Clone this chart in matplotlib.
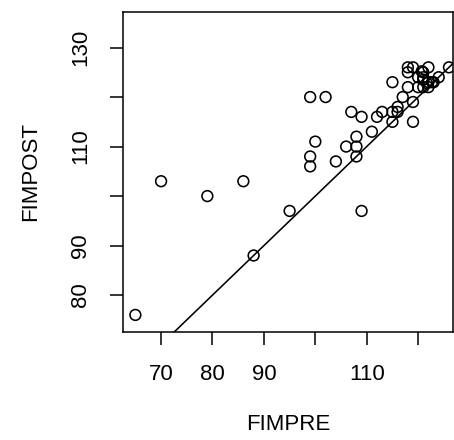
import numpy as np
import matplotlib
matplotlib.use('Agg')
import matplotlib.pyplot as plt

plt.rcParams['font.family'] = ['Liberation Sans', 'DejaVu Sans']

# FIMPRE / FIMPOST pairs
fimpre = [65, 70, 79, 86, 88, 95, 99, 102, 100, 99, 99, 104, 106, 108, 108, 108,
          109, 107, 109, 111, 112, 113, 115, 115, 116, 116, 115, 117, 118, 119,
          119, 118, 119, 118, 121, 122, 120, 121, 120, 121, 122, 122, 123, 124,
          126, 121, 121.7, 120.7, 122.7]
fimpost = [76, 103, 100, 103, 88, 97, 120, 120, 111, 108, 106, 107, 110, 112, 110, 108,
           97, 117, 116, 113, 116, 117, 117, 115, 117, 118, 123, 120, 122, 119,
           115, 126, 126, 125, 125, 126, 124, 124, 122, 122, 122, 123, 123, 124,
           126, 123.5, 122.8, 125.2, 123]

xticks = [70, 80, 90, 100, 110, 120]
xticklabels = ['70', '80', '90', '', '110', '']
yticks = [80, 90, 100, 110, 120, 130]
yticklabels = ['80', '90', '', '110', '', '130']

fig = plt.figure(figsize=(4.54, 4.40), dpi=100)
ax = fig.add_axes([0.271, 0.246, 0.727, 0.727])

ax.scatter(fimpre, fimpost, s=60, facecolors='none', edgecolors='black', linewidths=1.15)

# identity line, y = x
ax.axline((0, 0), slope=1, color='black', lw=1.15)

ax.set_xlim(62.6, 126.8)
ax.set_ylim(72.6, 137.2)

ax.set_xticks(xticks)
ax.set_xticklabels(xticklabels)
ax.set_yticks(yticks)
ax.set_yticklabels(yticklabels, rotation=90, va='center')

ax.tick_params(direction='out', length=9.5, width=1.1, labelsize=16, pad=13.5, color='black')
for s in ax.spines.values():
    s.set_linewidth(1.1)

ax.set_xlabel('FIMPRE', fontsize=16, labelpad=21)
ax.set_ylabel('FIMPOST', fontsize=16, labelpad=21)

fig.savefig('out.png', dpi=100)
